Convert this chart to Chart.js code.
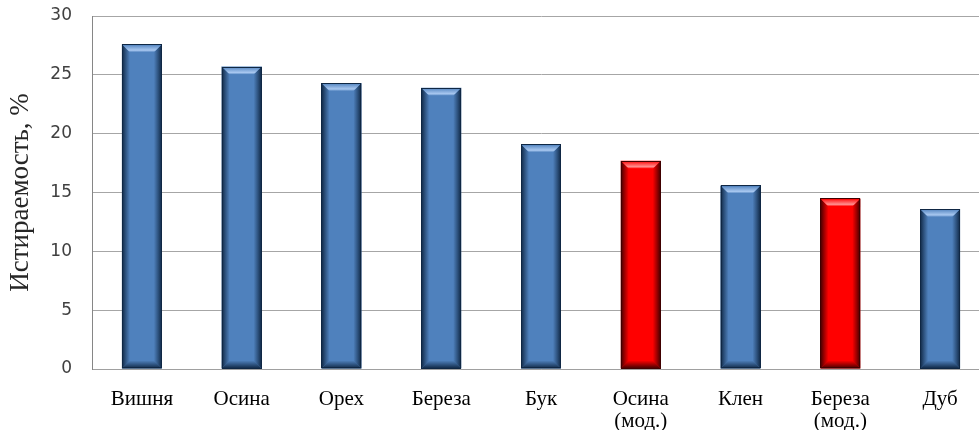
<!DOCTYPE html>
<html>
<head>
<meta charset="utf-8">
<title>Истираемость древесины</title>
<script src="https://cdn.jsdelivr.net/npm/chart.js@4.4.1/dist/chart.umd.min.js"></script>
<style>
    html, body { margin: 0; padding: 0; overflow: hidden; background: #fff; }
    #wrap { width: 990px; height: 430px; position: relative; }
</style>
</head>
<body>
<div id="wrap"><canvas id="wearChart"></canvas></div>
<script>
// породы древесины (подписи оси X)
const species = [
    ['Вишня'], ['Осина'], ['Орех'], ['Береза'], ['Бук'],
    ['Осина', '(мод.)'], ['Клен'], ['Береза', '(мод.)'], ['Дуб']
];
// истираемость, %
const wearValues = [27.6, 25.7, 24.3, 23.9, 19.1, 17.7, 15.6, 14.5, 13.6];
// модифицированная древесина выделяется красным
const isModified = [false, false, false, false, false, true, false, true, false];

const yMin = 0;
const yMax = 30;
const yStep = 5;

const palette = {
    plain:    { base: '#4f81bd', dark: '#0f2744', light: '#a9c8f0' },
    modified: { base: '#ff0000', dark: '#400000', light: '#ff9090' }
};

// объёмный «скос» на столбиках, как в Excel
const bevelBars = {
    id: 'bevelBars',
    afterDatasetsDraw(chart) {
        const ctx = chart.ctx;
        const meta = chart.getDatasetMeta(0);
        const b = 8;
        meta.data.forEach((bar, i) => {
            const { x, y, base, width } = bar.getProps(['x', 'y', 'base', 'width'], true);
            const c = isModified[i] ? palette.modified : palette.plain;
            const l = x - width / 2, r = x + width / 2, t = y, btm = base;
            ctx.save();

            // левая грань
            let g = ctx.createLinearGradient(l, 0, l + b, 0);
            g.addColorStop(0, c.dark);
            g.addColorStop(0.45, c.dark + '88');
            g.addColorStop(1, c.dark + '00');
            ctx.fillStyle = g;
            ctx.beginPath();
            ctx.moveTo(l, t); ctx.lineTo(l + b, t + b); ctx.lineTo(l + b, btm - b); ctx.lineTo(l, btm);
            ctx.closePath(); ctx.fill();

            // правая грань
            g = ctx.createLinearGradient(r, 0, r - b, 0);
            g.addColorStop(0, c.dark);
            g.addColorStop(0.45, c.dark + '88');
            g.addColorStop(1, c.dark + '00');
            ctx.fillStyle = g;
            ctx.beginPath();
            ctx.moveTo(r, t); ctx.lineTo(r - b, t + b); ctx.lineTo(r - b, btm - b); ctx.lineTo(r, btm);
            ctx.closePath(); ctx.fill();

            // верхний скос (блик)
            g = ctx.createLinearGradient(0, t, 0, t + b);
            g.addColorStop(0, c.base);
            g.addColorStop(0.75, c.light);
            g.addColorStop(1, c.base);
            ctx.fillStyle = g;
            ctx.beginPath();
            ctx.moveTo(l + 1, t + 1); ctx.lineTo(r - 1, t + 1); ctx.lineTo(r - b, t + b); ctx.lineTo(l + b, t + b);
            ctx.closePath(); ctx.fill();

            // нижний скос (тень)
            g = ctx.createLinearGradient(0, btm, 0, btm - b);
            g.addColorStop(0, c.dark);
            g.addColorStop(1, c.dark + '00');
            ctx.fillStyle = g;
            ctx.beginPath();
            ctx.moveTo(l, btm); ctx.lineTo(r, btm); ctx.lineTo(r - b, btm - b); ctx.lineTo(l + b, btm - b);
            ctx.closePath(); ctx.fill();

            // контур
            ctx.strokeStyle = c.dark;
            ctx.lineWidth = 1;
            ctx.strokeRect(Math.round(l) + 0.5, Math.round(t) + 0.5, Math.round(width) - 1, Math.round(btm - t) - 1);
            ctx.restore();
        });
    }
};

const ctx = document.getElementById('wearChart').getContext('2d');

new Chart(ctx, {
    type: 'bar',
    data: {
        labels: species,
        datasets: [{
            label: 'Истираемость, %',
            data: wearValues,
            backgroundColor: isModified.map(m => m ? palette.modified.base : palette.plain.base),
            borderWidth: 0,
            barPercentage: 0.4,
            categoryPercentage: 1
        }]
    },
    options: {
        responsive: true,
        maintainAspectRatio: false,
        animation: false,
        layout: { padding: { top: 16, right: 0, bottom: 0, left: 0 } },
        plugins: {
            legend: { display: false },
            tooltip: { enabled: false }
        },
        scales: {
            x: {
                grid: { display: false },
                border: { display: true, color: '#a0a0a0', width: 1 },
                ticks: {
                    color: '#000',
                    padding: 11,
                    maxRotation: 0,
                    autoSkip: false,
                    font: { family: '"Liberation Serif", "Times New Roman", serif', size: 21, lineHeight: 1.05 }
                },
                afterFit(scale) { scale.height = 61; }
            },
            y: {
                min: yMin,
                max: yMax,
                // невидимые засечки дают отступ подписей, не раздувая верхний край
                grid: { color: '#a6a6a6', drawTicks: true, tickLength: 18, tickColor: 'rgba(0,0,0,0)' },
                border: { display: true, color: '#868686', width: 1 },
                ticks: {
                    stepSize: yStep,
                    padding: 2,
                    color: '#404040',
                    font: { family: '"DejaVu Sans", Verdana, sans-serif', size: 17 }
                },
                title: {
                    display: true,
                    text: 'Истираемость, %',
                    color: '#262626',
                    padding: { top: 5, bottom: 0 },
                    font: { family: '"Liberation Serif", "Times New Roman", serif', size: 27, lineHeight: 1.2 }
                },
                afterFit(scale) { scale.width = 92; }
            }
        }
    },
    plugins: [bevelBars]
});
</script>
</body>
</html>
